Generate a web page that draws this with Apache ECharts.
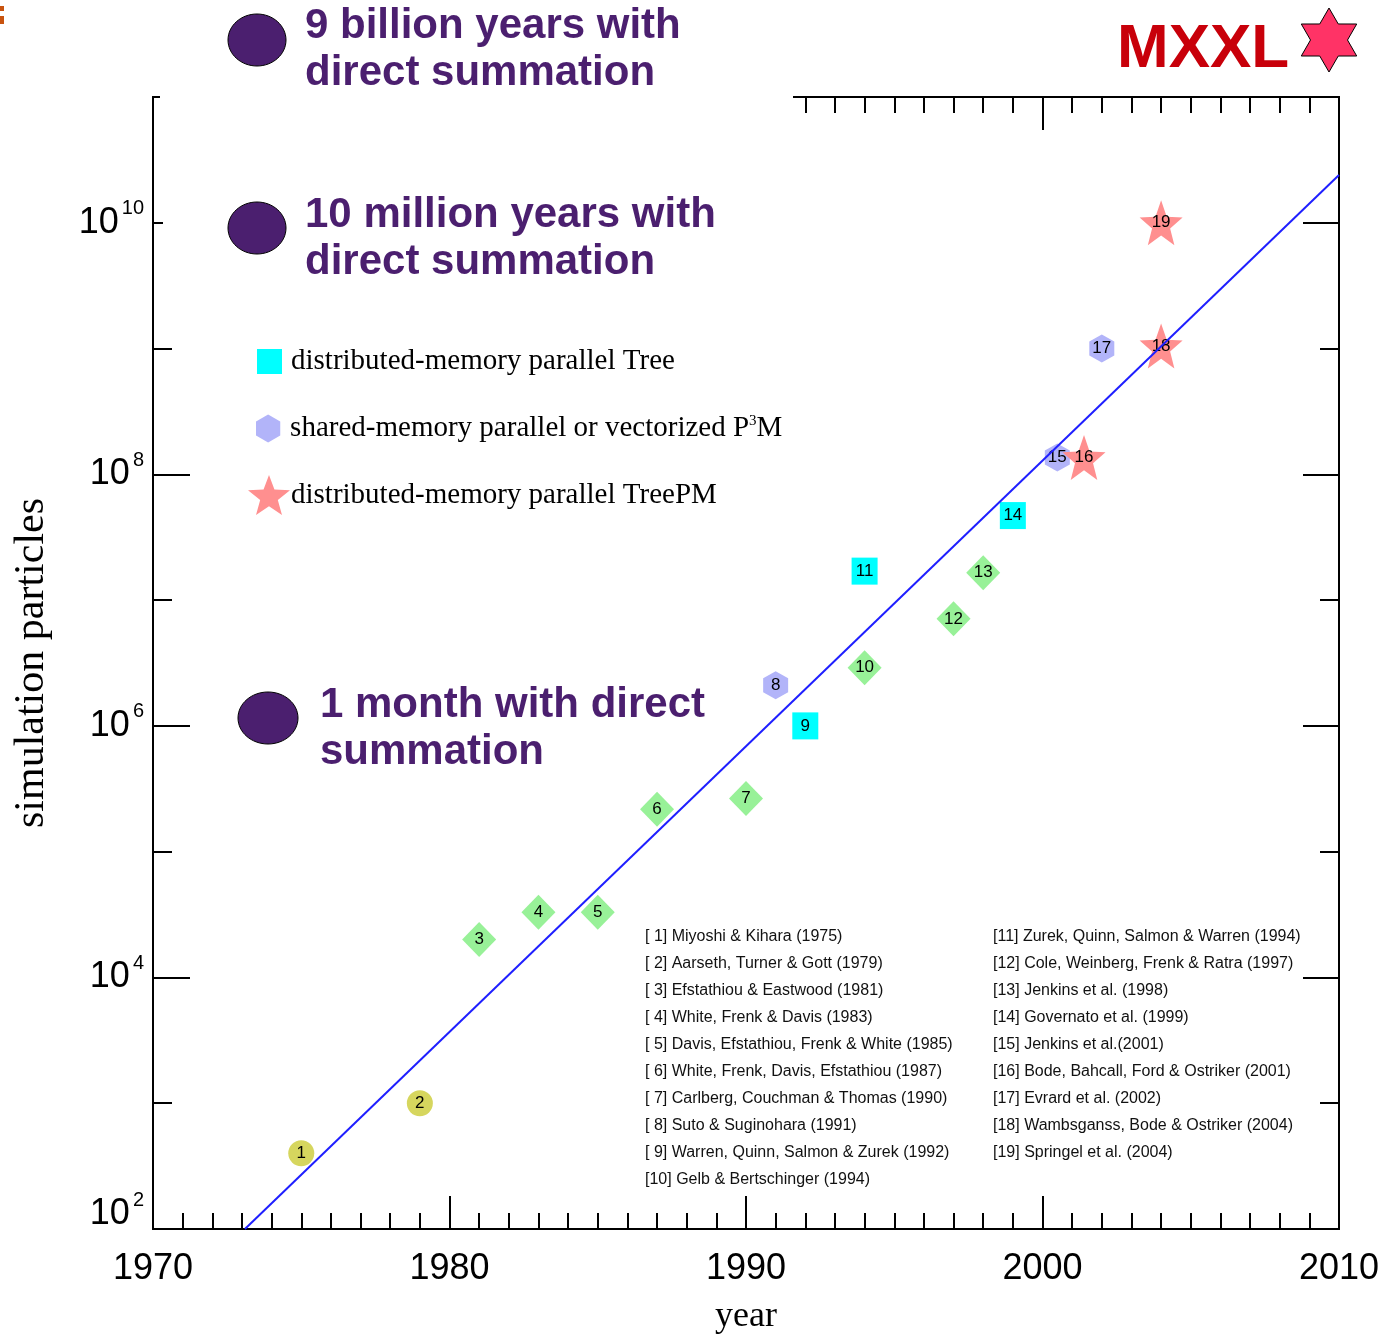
<!DOCTYPE html>
<html>
<head>
<meta charset="utf-8">
<script src="https://cdn.jsdelivr.net/npm/echarts@6/dist/echarts.min.js"></script>
<style>
  html, body { margin: 0; padding: 0; background: #ffffff; }
  #chart { width: 1397px; height: 1335px; }
</style>
</head>
<body>
<div id="chart"></div>
<script>
// Growth of cosmological N-body simulation sizes (particles) by publication year.

// Direct-summation / early codes
const directYears = [1975, 1979];
const directCounts = [400, 1000];
const directIds = ['1', '2'];

// P3M / PM runs
const p3mYears = [1981, 1983, 1985, 1987, 1990, 1994, 1997, 1998];
const p3mCounts = [2.0e4, 3.3e4, 3.3e4, 2.17e5, 2.65e5, 2.9e6, 7.1e6, 1.65e7];
const p3mIds = ['3', '4', '5', '6', '7', '10', '12', '13'];

// distributed-memory parallel Tree
const treeYears = [1992, 1994, 1999];
const treeCounts = [1.0e6, 1.7e7, 4.7e7];
const treeIds = ['9', '11', '14'];

// shared-memory parallel or vectorized P3M
const sharedYears = [1991, 2000.5, 2002];
const sharedCounts = [2.1e6, 1.36e8, 1.0e9];
const sharedIds = ['8', '15', '17'];

// distributed-memory parallel TreePM
const treePMYears = [2001.4, 2004, 2004];
const treePMCounts = [1.36e8, 1.05e9, 1.0e10];
const treePMIds = ['16', '18', '19'];

// Exponential trend line
const trendYears = [1973.1, 2010];
const trendCounts = [100, 2.4e10];

// Reference list
const refsLeft = [
  '[ 1] Miyoshi & Kihara (1975)',
  '[ 2] Aarseth, Turner & Gott (1979)',
  '[ 3] Efstathiou & Eastwood (1981)',
  '[ 4] White, Frenk & Davis (1983)',
  '[ 5] Davis, Efstathiou, Frenk & White (1985)',
  '[ 6] White, Frenk, Davis, Efstathiou (1987)',
  '[ 7] Carlberg, Couchman & Thomas (1990)',
  '[ 8] Suto & Suginohara (1991)',
  '[ 9] Warren, Quinn, Salmon & Zurek (1992)',
  '[10] Gelb & Bertschinger (1994)'
];
const refsRight = [
  '[11] Zurek, Quinn, Salmon & Warren (1994)',
  '[12] Cole, Weinberg, Frenk & Ratra (1997)',
  '[13] Jenkins et al. (1998)',
  '[14] Governato et al. (1999)',
  '[15] Jenkins et al.(2001)',
  '[16] Bode, Bahcall, Ford & Ostriker (2001)',
  '[17] Evrard et al. (2002)',
  '[18] Wambsganss, Bode & Ostriker (2004)',
  '[19] Springel et al. (2004)'
];

// Annotation texts
const noteBillion = ['9 billion years with', 'direct summation'];
const noteMillion = ['10 million years with', 'direct summation'];
const noteMonth = ['1 month with direct', 'summation'];

const NAME_TREE = 'distributed-memory parallel Tree';
const NAME_SHARED = 'shared-memory parallel or vectorized P³M';
const NAME_TREEPM = 'distributed-memory parallel TreePM';

const SANS = '"Liberation Sans", Arial, Helvetica, sans-serif';
const SERIF = '"Liberation Serif", "Times New Roman", serif';
const PURPLE = '#4b1f6f';

function starPoints(n, R, r, cx, cy) {
  const pts = [];
  for (let k = 0; k < 2 * n; k++) {
    const a = -Math.PI / 2 + k * Math.PI / n;
    const rad = k % 2 ? r : R;
    pts.push([cx + rad * Math.cos(a), cy + rad * Math.sin(a)]);
  }
  return pts;
}
function toPath(pts) {
  return 'path://M' + pts.map(p => p[0].toFixed(4) + ',' + p[1].toFixed(4)).join('L') + 'Z';
}
const hexSymbol = toPath(starPoints(3, 1, 1, 0, 0));
const starSymbol = toPath(starPoints(5, 1, 0.42, 0, 0));

function pts(years, counts, ids) {
  return years.map((y, i) => ({ value: [y, counts[i]], name: ids[i] }));
}

const pointLabel = {
  show: true, position: 'inside', formatter: '{b}',
  color: '#000', fontSize: 17, fontFamily: SANS
};

function scatter(name, years, counts, ids, symbol, size, color) {
  return {
    type: 'scatter', name: name, data: pts(years, counts, ids),
    symbol: symbol, symbolSize: size,
    itemStyle: { color: color, opacity: 1 },
    label: pointLabel, z: 2, silent: true
  };
}

const black = { color: '#000', width: 2 };

const xBase = {
  type: 'value', min: 1970, max: 2010, interval: 10,
  splitLine: { show: false },
  axisLine: { onZero: false, lineStyle: black },
  axisTick: { inside: true, length: 33, lineStyle: black },
  minorTick: { show: true, splitNumber: 10, length: 16, lineStyle: black },
  minorSplitLine: { show: false }
};

function yLabel(v) {
  const e = Math.round(Math.log10(v));
  if (e % 2 !== 0 || e > 10) return '';
  if (e === 2) return '{b2|10}{s2|' + e + '}';
  return '{b|10}{s|' + e + '}';
}

const yBase = {
  type: 'log', logBase: 10, min: 100, max: 1e11,
  splitLine: { show: false },
  axisLine: { onZero: false, lineStyle: black }
};

const option = {
  animation: false,
  backgroundColor: '#ffffff',
  grid: { left: 153, right: 58, top: 97, bottom: 106, containLabel: false, outerBoundsMode: 'none' },
  xAxis: [
    Object.assign({}, xBase, {
      position: 'bottom',
      axisLabel: { color: '#000', fontSize: 36, fontFamily: SANS, margin: 22, formatter: v => String(v) },
      name: 'year', nameLocation: 'middle', nameGap: 70,
      nameTextStyle: { color: '#000', fontSize: 36, fontFamily: SERIF }
    }),
    Object.assign({}, xBase, { position: 'top', axisLabel: { show: false } })
  ],
  yAxis: [
    Object.assign({}, yBase, {
      position: 'left', interval: 2,
      axisTick: { inside: true, length: 37, lineStyle: black },
      axisLabel: {
        formatter: yLabel, margin: 9,
        rich: {
          b: { fontSize: 36, fontFamily: SANS, color: '#000' },
          s: { fontSize: 20, fontFamily: SANS, color: '#000', padding: [0, 0, 28, 3] },
          b2: { fontSize: 36, fontFamily: SANS, color: '#000', padding: [0, 0, 30, 0] },
          s2: { fontSize: 20, fontFamily: SANS, color: '#000', padding: [0, 0, 58, 3] }
        }
      },
      name: 'simulation particles', nameLocation: 'middle', nameGap: 100,
      nameTextStyle: { color: '#000', fontSize: 42, fontFamily: SERIF }
    }),
    Object.assign({}, yBase, {
      position: 'left', interval: 1, splitNumber: 9,
      axisTick: { inside: true, length: 19, lineStyle: black },
      axisLabel: { show: false }
    }),
    Object.assign({}, yBase, {
      position: 'right', interval: 2,
      axisTick: { inside: true, length: 36, lineStyle: black },
      axisLabel: { show: false }
    }),
    Object.assign({}, yBase, {
      position: 'right', interval: 1, splitNumber: 9,
      axisTick: { inside: true, length: 19, lineStyle: black },
      axisLabel: { show: false }
    })
  ],
  legend: [
    {
      data: [{ name: NAME_TREE, icon: 'rect' }],
      left: 257, top: 347, padding: 0, itemWidth: 25, itemHeight: 25,
      selectedMode: false,
      textStyle: { color: '#000', fontSize: 29, fontFamily: SERIF, padding: [0, 0, 0, 4] }
    },
    {
      data: [{ name: NAME_SHARED, icon: hexSymbol }],
      left: 256, top: 414, padding: 0, itemWidth: 26, itemHeight: 28,
      selectedMode: false,
      formatter: n => n.replace('P³M', 'P{sup|3}M'),
      textStyle: {
        color: '#000', fontSize: 29, fontFamily: SERIF, padding: [0, 0, 0, 4],
        rich: { sup: { fontSize: 15, fontFamily: SERIF, color: '#000', padding: [0, 0, 14, 0] } }
      }
    },
    {
      data: [{ name: NAME_TREEPM, icon: starSymbol }],
      left: 248, top: 475, padding: 0, itemWidth: 42, itemHeight: 44,
      selectedMode: false,
      textStyle: { color: '#000', fontSize: 29, fontFamily: SERIF, padding: [0, 0, 0, -4] }
    }
  ],
  series: [
    {
      type: 'line', name: 'trend', silent: true, z: 3,
      data: trendYears.map((y, i) => [y, trendCounts[i]]),
      symbol: 'none', lineStyle: { color: '#1f1fff', width: 2 }
    },
    scatter('direct', directYears, directCounts, directIds, 'circle', 26, '#d6d65e'),
    scatter('p3m', p3mYears, p3mCounts, p3mIds, 'diamond', [34, 35], '#98f198'),
    scatter(NAME_TREE, treeYears, treeCounts, treeIds, 'rect', [26, 27], '#00ffff'),
    scatter(NAME_SHARED, sharedYears, sharedCounts, sharedIds, hexSymbol, [25, 28], '#b2b4f9'),
    scatter(NAME_TREEPM, treePMYears, treePMCounts, treePMIds, starSymbol, [43, 45], '#ff8f8f')
  ],
  graphic: {
    elements: [
      // white panels behind the annotation texts
      { type: 'rect', z: 50, shape: { x: 160, y: 60, width: 633, height: 80 }, style: { fill: '#ffffff' } },
      { type: 'rect', z: 50, shape: { x: 163, y: 182, width: 570, height: 112 }, style: { fill: '#ffffff' } },
      // small orange marks at the top-left corner
      { type: 'rect', z: 51, shape: { x: 0, y: 6, width: 4, height: 5 }, style: { fill: '#c8530f' } },
      { type: 'rect', z: 51, shape: { x: 0, y: 16, width: 4, height: 8 }, style: { fill: '#c8530f' } },
      // purple discs
      { type: 'ellipse', z: 52, shape: { cx: 257, cy: 40, rx: 29, ry: 26 }, style: { fill: PURPLE, stroke: '#000', lineWidth: 1 } },
      { type: 'ellipse', z: 52, shape: { cx: 257, cy: 228, rx: 29, ry: 26 }, style: { fill: PURPLE, stroke: '#000', lineWidth: 1 } },
      { type: 'ellipse', z: 52, shape: { cx: 268, cy: 718, rx: 30, ry: 26 }, style: { fill: PURPLE, stroke: '#000', lineWidth: 1 } },
      // annotation texts
      { type: 'text', z: 52, style: { text: noteBillion.join('\n'), x: 305, y: 3, fill: PURPLE, fontSize: 42, fontWeight: 'bold', fontFamily: SANS, lineHeight: 47, verticalAlign: 'top' } },
      { type: 'text', z: 52, style: { text: noteMillion.join('\n'), x: 305, y: 192, fill: PURPLE, fontSize: 42, fontWeight: 'bold', fontFamily: SANS, lineHeight: 47, verticalAlign: 'top' } },
      { type: 'text', z: 52, style: { text: noteMonth.join('\n'), x: 320, y: 682, fill: PURPLE, fontSize: 42, fontWeight: 'bold', fontFamily: SANS, lineHeight: 47, verticalAlign: 'top' } },
      // MXXL badge
      { type: 'text', z: 52, style: { text: 'MXXL', x: 1117, y: 50, fill: '#c8000a', fontSize: 62, fontWeight: 'bold', fontFamily: SANS, verticalAlign: 'middle' } },
      { type: 'polygon', z: 52, shape: { points: starPoints(6, 32, 18.5, 1329, 40) }, style: { fill: '#ff3366', stroke: '#000', lineWidth: 1 } },
      // reference list
      { type: 'text', z: 52, style: { text: refsLeft.join('\n'), x: 645, y: 923, fill: '#111', fontSize: 16, fontFamily: SANS, lineHeight: 27, verticalAlign: 'top' } },
      { type: 'text', z: 52, style: { text: refsRight.join('\n'), x: 993, y: 923, fill: '#111', fontSize: 16, fontFamily: SANS, lineHeight: 27, verticalAlign: 'top' } }
    ]
  }
};

const chart = echarts.init(document.getElementById('chart'), null, { renderer: 'canvas' });
chart.setOption(option);
</script>
</body>
</html>
